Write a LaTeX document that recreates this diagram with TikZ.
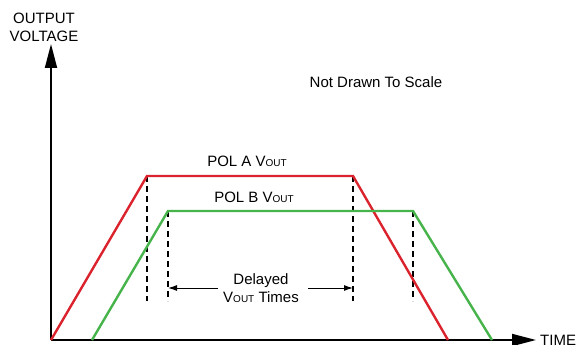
\documentclass[tikz,border=0pt]{standalone}
\usepackage{fontspec}
\setmainfont{Liberation Sans}
\usetikzlibrary{arrows.meta}
\definecolor{polred}{RGB}{218,35,45}
\definecolor{polgreen}{RGB}{70,180,75}
\newcommand{\vout}{V{\fontsize{10pt}{10pt}\selectfont OUT}}
\tikzset{
  axis/.style={line width=1.8pt, -{Triangle[length=24pt,width=12pt]}},
  curve/.style={line width=2.4pt, line join=miter},
  guide/.style={line width=1.1pt, dash pattern=on 6pt off 4pt},
  dim/.style={line width=1pt, -{Latex[length=9pt,width=6pt]}},
  lbl/.style={font=\fontsize{15pt}{18pt}\selectfont, inner sep=0pt, align=center}
}
\begin{document}
\begin{tikzpicture}[x=1pt,y=-1pt]
\useasboundingbox (0,0) rectangle (581,345);
% axes
\coordinate (O) at (51,340);
\coordinate (Ytop) at (51,44);
\coordinate (Xend) at (536,340);
\draw[axis] (O) -- (Ytop);
\draw[axis] (O) -- (Xend);
\node[lbl, anchor=center] (ylab) at (44,27) {OUTPUT\\VOLTAGE};
\node[lbl, anchor=west] (xlab) at (540,340) {TIME};
\node[lbl] (note) at (376,82) {Not Drawn To Scale};
% curve coordinates
\coordinate (a0) at (51,340);
\coordinate (a1) at (147,176);
\coordinate (a2) at (353,176);
\coordinate (a3) at (448,340);
\coordinate (b0) at (92,340);
\coordinate (b1) at (168,211);
\coordinate (b2) at (413,211);
\coordinate (b3) at (492,340);
% dashed guides
\coordinate (a1d) at (147,301);
\coordinate (b1d) at (168,301);
\coordinate (a2d) at (353,301);
\coordinate (b2d) at (413,301);
\draw[guide] (a1) -- (a1d);
\draw[guide] (b1) -- (b1d);
\draw[guide] (a2) -- (a2d);
\draw[guide] (b2) -- (b2d);
% curves
\draw[curve, polred] (a0) -- (a1) -- (a2) -- (a3);
\draw[curve, polgreen] (b0) -- (b1) -- (b2) -- (b3);
% labels
\node[lbl] (pola) at (247,161) {POL A \vout};
\node[lbl] (polb) at (254,197) {POL B \vout};
\node[lbl] (delay) at (261,288) {Delayed\\\vout\ Times};
% dimension arrows
\coordinate (dl) at (168,288);
\coordinate (dr) at (353,288);
\coordinate (dls) at (218,288);
\coordinate (drs) at (308,288);
\draw[dim] (dls) -- (dl);
\draw[dim] (drs) -- (dr);
\end{tikzpicture}
\end{document}
